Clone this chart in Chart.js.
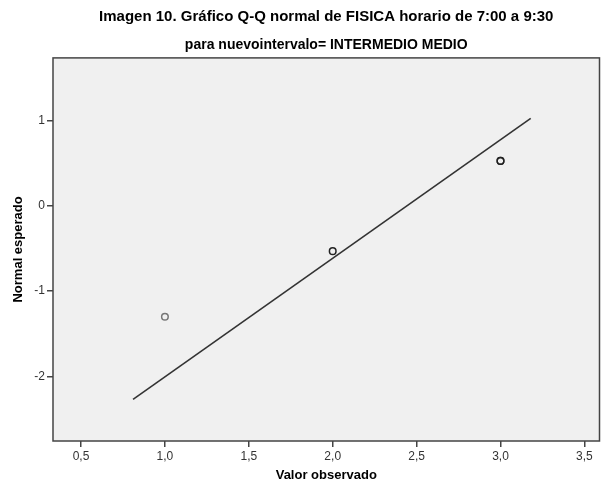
<!DOCTYPE html>
<html>
<head>
<meta charset="utf-8">
<script src="https://cdn.jsdelivr.net/npm/chart.js@4"></script>
<style>
  body { margin: 0; background: #ffffff; }
</style>
</head>
<body>
<canvas id="qqChart" width="605" height="484"></canvas>
<script>
// 観測値と期待正規値
const observados = [1, 2, 3, 3];
const esperados = [-1.30, -0.53, 0.53, 0.53];
// 参照線の端点
const lineaX = [0.81, 3.18];
const lineaY = [-2.27, 1.03];
// 目盛り
const ticksX = [0.5, 1.0, 1.5, 2.0, 2.5, 3.0, 3.5];
const ticksY = [-2, -1, 0, 1];

const puntos = observados.map((v, i) => ({ x: v, y: esperados[i] }));
const linea = lineaX.map((v, i) => ({ x: v, y: lineaY[i] }));

// 背景と枠
const fondoPlugin = {
    id: 'fondo',
    beforeDatasetsDraw(chart) {
        const a = chart.chartArea;
        const ctx = chart.ctx;
        ctx.save();
        ctx.fillStyle = '#f0f0f0';
        ctx.fillRect(a.left, a.top, a.right - a.left, a.bottom - a.top);
        ctx.restore();
    },
    afterDraw(chart) {
        const a = chart.chartArea;
        const ctx = chart.ctx;
        ctx.save();
        ctx.strokeStyle = '#444';
        ctx.lineWidth = 1.5;
        ctx.strokeRect(a.left, a.top, a.right - a.left, a.bottom - a.top);
        ctx.restore();
    }
};

const fmt = v => v.toFixed(1).replace('.', ',');

const ctx = document.getElementById('qqChart').getContext('2d');
new Chart(ctx, {
    type: 'scatter',
    data: {
        datasets: [{
            data: linea,
            showLine: true,
            borderColor: '#333',
            borderWidth: 1.6,
            pointRadius: 0,
            order: 2
        }, {
            data: puntos,
            pointRadius: 3.3,
            pointBorderWidth: 1.5,
            pointBackgroundColor: 'rgba(0,0,0,0)',
            pointBorderColor: ['#777', '#222', '#222', '#222'],
            order: 1
        }]
    },
    options: {
        responsive: false,
        animation: false,
        layout: { padding: { left: 0, right: 2, top: 0, bottom: 0 } },
        plugins: {
            legend: { display: false },
            tooltip: { enabled: false },
            title: {
                display: true,
                fullSize: false,
                text: 'Imagen 10. Gráfico Q-Q normal de FISICA horario de 7:00 a 9:30',
                color: '#000',
                font: { family: 'Liberation Sans', size: 15, weight: 'bold', lineHeight: 1.2 },
                padding: { top: 8, bottom: 10.5 }
            },
            subtitle: {
                display: true,
                fullSize: false,
                text: 'para nuevointervalo= INTERMEDIO MEDIO',
                color: '#000',
                font: { family: 'Liberation Sans', size: 14, weight: 'bold', lineHeight: 1.2 },
                padding: { top: 0, bottom: 4.6 }
            }
        },
        scales: {
            x: {
                type: 'linear',
                min: 0.333,
                max: 3.59,
                afterFit(scale) { scale.height = 43; },
                afterBuildTicks(scale) { scale.ticks = ticksX.map(v => ({ value: v })); },
                grid: { display: true, drawOnChartArea: false, drawTicks: true, tickLength: 6, color: '#444', lineWidth: 1.5 },
                border: { display: false },
                ticks: {
                    callback: v => fmt(v),
                    color: '#333',
                    padding: 2,
                    maxRotation: 0,
                    font: { family: 'Liberation Sans', size: 12 }
                },
                title: {
                    display: true,
                    text: 'Valor observado',
                    color: '#000',
                    font: { family: 'Liberation Sans', size: 13, weight: 'bold', lineHeight: 1.2 },
                    padding: { top: 0, bottom: 0.5 }
                }
            },
            y: {
                type: 'linear',
                min: -2.76,
                max: 1.74,
                afterFit(scale) { scale.width = 53; },
                afterBuildTicks(scale) { scale.ticks = ticksY.map(v => ({ value: v })); },
                grid: { display: true, drawOnChartArea: false, drawTicks: true, tickLength: 6, color: '#444', lineWidth: 1.5 },
                border: { display: false },
                ticks: {
                    callback: v => String(v),
                    color: '#333',
                    padding: 2,
                    font: { family: 'Liberation Sans', size: 12 }
                },
                title: {
                    display: true,
                    text: 'Normal esperado',
                    color: '#000',
                    font: { family: 'Liberation Sans', size: 13, weight: 'bold', lineHeight: 1.2 },
                    padding: { top: 11, bottom: 0 }
                }
            }
        }
    },
    plugins: [fondoPlugin]
});
</script>
</body>
</html>
